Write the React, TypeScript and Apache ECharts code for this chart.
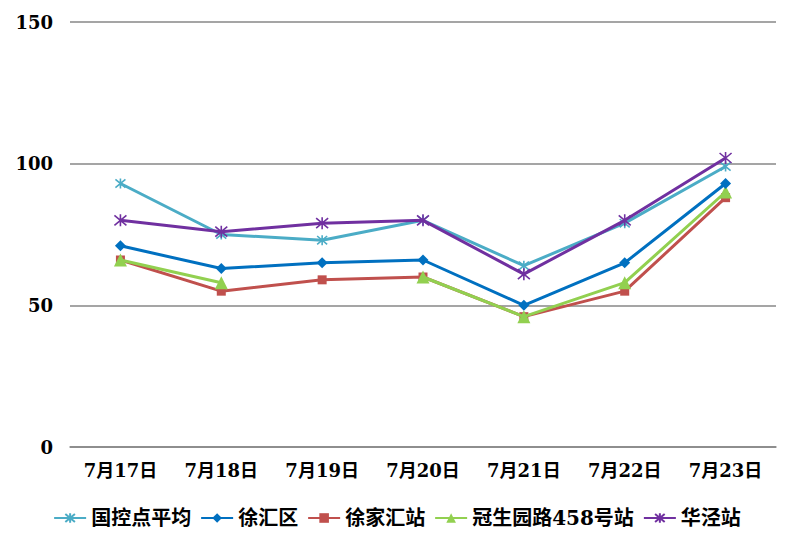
import React, { useEffect, useRef } from "react";
import * as echarts from "echarts";

const categories = ["7月17日", "7月18日", "7月19日", "7月20日", "7月21日", "7月22日", "7月23日"];
const seriesNames = ["国控点平均", "徐汇区", "徐家汇站", "冠生园路458号站", "华泾站"];
const guokong = [93, 75, 73, 80, 64, 79, 99];
const xuhuiqu = [71, 63, 65, 66, 50, 65, 93];
const xujiahui = [66, 55, 59, 60, 46, 55, 88];
const guanshengyuan = [66, 58, null, 60, 46, 58, 90];
const huajing = [80, 76, 79, 80, 61, 80, 102];
const yTicks = [0, 50, 100, 150];

const colors = ["#4BACC6", "#0070C0", "#C0504D", "#92D050", "#7030A0"];
const STAR = "path://M0,0L10,10M10,0L0,10M5,-1L5,11";
const XSTAR = "path://M0,0L10,10M10,0L0,10M5,-1L5,11";

export default function App() {
  const ref = useRef<HTMLDivElement>(null);
  useEffect(() => {
    if (!ref.current) return;
    const chart = echarts.init(ref.current, null, { renderer: "svg" });
    const font = '"DejaVu Serif", "Noto Sans CJK SC", serif';
    const datas = [guokong, xuhuiqu, xujiahui, guanshengyuan, huajing];
    const symbols = [STAR, "diamond", "rect", "triangle", XSTAR];
    const sizes = [10, 11, 9, 13, 12];
    chart.setOption({
      animation: false,
      color: colors,
      grid: { left: 70, right: 18, top: 22, bottom: 100 },
      legend: {
        bottom: 14,
        left: "center",
        itemWidth: 32,
        itemHeight: 12,
        itemGap: 9,
        textStyle: { fontFamily: font, fontWeight: "bold", fontSize: 20, color: "#000" },
        data: seriesNames,
      },
      xAxis: {
        type: "category",
        data: categories,
        boundaryGap: true,
        axisLine: { show: true, lineStyle: { color: "#878787", width: 1.5 } },
        axisTick: { show: false },
        axisLabel: { margin: 14, fontFamily: font, fontWeight: "bold", fontSize: 18, color: "#000" },
      },
      yAxis: {
        type: "value",
        min: yTicks[0],
        max: yTicks[yTicks.length - 1],
        interval: 50,
        axisLine: { show: false },
        axisTick: { show: false },
        axisLabel: { margin: 17, fontFamily: font, fontWeight: "bold", fontSize: 18, color: "#000" },
        splitLine: { lineStyle: { color: "#878787", width: 1.5 } },
      },
      series: seriesNames.map((name, i) => ({
        name,
        type: "line",
        data: datas[i],
        symbol: symbols[i],
        symbolSize: sizes[i],
        showAllSymbol: true,
        connectNulls: false,
        lineStyle: { width: 3, color: colors[i] },
        itemStyle:
          i === 0 || i === 4
            ? { color: "none", borderColor: colors[i], borderWidth: 1.6 }
            : { color: colors[i], borderColor: colors[i], borderWidth: 0 },
        z: [3, 4, 2, 3, 5][i],
      })),
    });
    return () => chart.dispose();
  }, []);
  return (
    <div
      ref={ref}
      style={{ position: "fixed", left: 0, top: 0, width: 794, height: 547, background: "#fff" }}
    />
  );
}
